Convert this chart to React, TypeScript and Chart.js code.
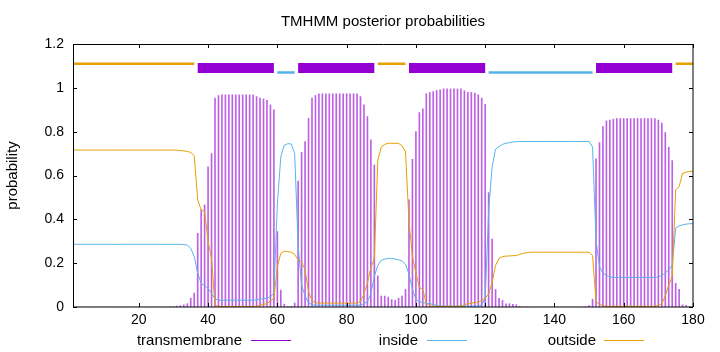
import React, { useEffect, useRef } from "react";
import { Chart, registerables } from "chart.js";

Chart.register(...registerables);

const TITLE = "TMHMM posterior probabilities";
const Y_LABEL = "probability";
const X_TICKS = [20, 40, 60, 80, 100, 120, 140, 160, 180];
const Y_TICKS = [0, 0.2, 0.4, 0.6, 0.8, 1, 1.2];
const SERIES_NAMES = ["transmembrane", "inside", "outside"];

// posterior probabilities per residue, positions 1..180
const TM = [
  0, 0, 0, 0, 0, 0, 0, 0, 0, 0,
  0, 0, 0, 0, 0, 0, 0, 0, 0, 0,
  0, 0, 0, 0, 0, 0, 0, 0, 0.001, 0.002,
  0.004, 0.006, 0.01, 0.015, 0.04, 0.063, 0.336, 0.443, 0.466, 0.64,
  0.7, 0.953, 0.965, 0.968, 0.968, 0.968, 0.968, 0.968, 0.968, 0.968,
  0.968, 0.968, 0.968, 0.96, 0.953, 0.949, 0.943, 0.922, 0.9, 0.344,
  0.077, 0.013, 0.002, 0.003, 0.018, 0.575, 0.705, 0.755, 0.861, 0.953,
  0.965, 0.973, 0.973, 0.973, 0.973, 0.973, 0.973, 0.973, 0.973, 0.973,
  0.973, 0.973, 0.973, 0.96, 0.922, 0.869, 0.763, 0.648, 0.142, 0.05,
  0.05, 0.045, 0.034, 0.03, 0.04, 0.05, 0.08, 0.489, 0.674, 0.8,
  0.887, 0.904, 0.973, 0.979, 0.983, 0.988, 0.991, 0.995, 0.995, 0.995,
  0.995, 0.995, 0.995, 0.987, 0.98, 0.979, 0.976, 0.968, 0.953, 0.925,
  0.522, 0.31, 0.08, 0.04, 0.03, 0.015, 0.015, 0.012, 0.01, 0.003,
  0, 0, 0, 0, 0, 0, 0, 0, 0, 0,
  0, 0, 0, 0, 0, 0, 0, 0, 0.002, 0.006,
  0.035, 0.676, 0.75, 0.823, 0.849, 0.853, 0.857, 0.86, 0.86, 0.86,
  0.86, 0.86, 0.86, 0.86, 0.86, 0.86, 0.86, 0.86, 0.86, 0.853,
  0.839, 0.796, 0.729, 0.668, 0.108, 0.081, 0.01, 0.008, 0.002, 0,
];

const INSIDE = [
  0.286, 0.286, 0.286, 0.286, 0.286, 0.286, 0.286, 0.286, 0.286, 0.286,
  0.286, 0.286, 0.286, 0.286, 0.286, 0.286, 0.286, 0.286, 0.286, 0.286,
  0.286, 0.286, 0.286, 0.286, 0.286, 0.286, 0.286, 0.286, 0.286, 0.286,
  0.286, 0.286, 0.285, 0.282, 0.268, 0.23, 0.154, 0.108, 0.098, 0.085,
  0.062, 0.037, 0.031, 0.031, 0.031, 0.031, 0.031, 0.031, 0.031, 0.031,
  0.031, 0.031, 0.031, 0.033, 0.035, 0.038, 0.04, 0.047, 0.062, 0.47,
  0.686, 0.738, 0.745, 0.744, 0.7, 0.28, 0.1, 0.05, 0.02, 0.01,
  0.008, 0.008, 0.008, 0.008, 0.008, 0.008, 0.008, 0.008, 0.008, 0.008,
  0.008, 0.008, 0.008, 0.008, 0.015, 0.025, 0.06, 0.14, 0.19, 0.213,
  0.218, 0.222, 0.222, 0.219, 0.215, 0.21, 0.195, 0.15, 0.08, 0.035,
  0.025, 0.02, 0.017, 0.015, 0.012, 0.008, 0.005, 0.004, 0.004, 0.004,
  0.004, 0.004, 0.004, 0.004, 0.004, 0.004, 0.004, 0.004, 0.01, 0.04,
  0.44, 0.64, 0.72, 0.732, 0.742, 0.747, 0.75, 0.753, 0.754, 0.755,
  0.755, 0.755, 0.755, 0.755, 0.755, 0.755, 0.755, 0.755, 0.755, 0.755,
  0.755, 0.755, 0.755, 0.755, 0.755, 0.755, 0.755, 0.755, 0.755, 0.755,
  0.73, 0.306, 0.184, 0.155, 0.144, 0.138, 0.135, 0.135, 0.135, 0.135,
  0.135, 0.135, 0.135, 0.135, 0.135, 0.135, 0.135, 0.135, 0.135, 0.137,
  0.144, 0.155, 0.17, 0.19, 0.36, 0.37, 0.375, 0.378, 0.38, 0.38,
];

const OUTSIDE = [
  0.716, 0.716, 0.716, 0.716, 0.716, 0.716, 0.716, 0.716, 0.716, 0.716,
  0.716, 0.716, 0.716, 0.716, 0.716, 0.716, 0.716, 0.716, 0.716, 0.716,
  0.716, 0.716, 0.716, 0.716, 0.716, 0.716, 0.716, 0.716, 0.716, 0.716,
  0.716, 0.714, 0.712, 0.71, 0.705, 0.69, 0.489, 0.443, 0.435, 0.3,
  0.22, 0.01, 0.002, 0.002, 0.002, 0.002, 0.002, 0.002, 0.002, 0.002,
  0.002, 0.002, 0.002, 0.002, 0.008, 0.012, 0.015, 0.028, 0.04, 0.184,
  0.245, 0.255, 0.253, 0.25, 0.24, 0.215, 0.205, 0.17, 0.07, 0.03,
  0.02, 0.018, 0.018, 0.018, 0.018, 0.018, 0.018, 0.018, 0.018, 0.018,
  0.018, 0.018, 0.018, 0.025, 0.06, 0.11, 0.18, 0.22, 0.67, 0.73,
  0.742, 0.747, 0.747, 0.747, 0.747, 0.735, 0.71, 0.39, 0.23, 0.155,
  0.09, 0.08, 0.015, 0.006, 0.003, 0.003, 0.003, 0.003, 0.003, 0.003,
  0.003, 0.003, 0.003, 0.01, 0.016, 0.018, 0.02, 0.022, 0.03, 0.04,
  0.06, 0.11, 0.19, 0.222, 0.23, 0.232, 0.233, 0.234, 0.235, 0.24,
  0.245, 0.248, 0.25, 0.25, 0.25, 0.25, 0.25, 0.25, 0.25, 0.25,
  0.25, 0.25, 0.25, 0.25, 0.25, 0.25, 0.25, 0.25, 0.25, 0.25,
  0.235, 0.025, 0.012, 0.006, 0.003, 0.003, 0.003, 0.003, 0.003, 0.003,
  0.003, 0.003, 0.003, 0.003, 0.003, 0.003, 0.003, 0.003, 0.003, 0.008,
  0.015, 0.05, 0.1, 0.14, 0.534, 0.55, 0.61, 0.615, 0.618, 0.62,
];

// predicted topology: [start, end] residue ranges
const TM_REGIONS = [[37, 59], [66, 88], [98, 120], [152, 174]];
const INSIDE_REGIONS = [[60, 65], [121, 151]];
const OUTSIDE_REGIONS = [[1, 36], [89, 97], [175, 180]];
const LEVEL_TM = 1.09;
const LEVEL_INSIDE = 1.07;
const LEVEL_OUTSIDE = 1.11;

const C_TM = "#9400d3";
const C_TM_IMPULSE = "rgba(148, 0, 211, 0.62)";
const C_IN = "#56b4e9";
const C_OUT = "#e69f00";
const FONT = "'Liberation Sans', Arial, Helvetica, sans-serif";

const toPoints = (vals: number[]) => vals.map((v, i) => ({ x: i + 1, y: v }));
const toSegments = (regions: number[][], level: number) => {
  const pts: { x: number; y: number | null }[] = [];
  regions.forEach(([a, b]) => {
    pts.push({ x: a, y: level }, { x: b, y: level }, { x: b + 0.5, y: null });
  });
  return pts;
};

const framePlugin = {
  id: "gnuFrame",
  afterDatasetsDraw(chart: any) {
    const { ctx, chartArea, scales } = chart;
    const { left, right, top, bottom } = chartArea;
    const xs = scales.x;
    const ys = scales.y;
    ctx.save();
    ctx.strokeStyle = "#000";
    ctx.lineWidth = 1;
    ctx.beginPath();
    X_TICKS.forEach((v) => {
      const px = Math.round(xs.getPixelForValue(v)) + 0.5;
      ctx.moveTo(px, bottom);
      ctx.lineTo(px, bottom - 4);
      ctx.moveTo(px, top);
      ctx.lineTo(px, top + 4);
    });
    Y_TICKS.forEach((v) => {
      const py = Math.round(ys.getPixelForValue(v)) + 0.5;
      ctx.moveTo(left, py);
      ctx.lineTo(left + 4, py);
      ctx.moveTo(right, py);
      ctx.lineTo(right - 4, py);
    });
    ctx.stroke();
    ctx.beginPath();
    ctx.moveTo(left + 0.5, bottom);
    ctx.lineTo(left + 0.5, top + 0.5);
    ctx.lineTo(right, top + 0.5);
    ctx.lineTo(right, bottom);
    ctx.lineTo(left + 0.5, bottom);
    ctx.stroke();
    ctx.restore();
  },
};

const LEGEND = [
  { name: SERIES_NAMES[0], color: C_TM, textRight: 242, lineLeft: 251 },
  { name: SERIES_NAMES[1], color: C_IN, textRight: 418, lineLeft: 427 },
  { name: SERIES_NAMES[2], color: C_OUT, textRight: 596, lineLeft: 604 },
];

export default function App() {
  const canvasRef = useRef<HTMLCanvasElement | null>(null);

  useEffect(() => {
    const canvas = canvasRef.current;
    if (!canvas) return;
    const chart = new Chart(canvas, {
      type: "bar",
      data: {
        datasets: [
          {
            type: "line",
            label: "outside region",
            data: toSegments(OUTSIDE_REGIONS, LEVEL_OUTSIDE),
            borderColor: C_OUT,
            borderWidth: 2.5,
            pointRadius: 0,
            spanGaps: false,
            order: 0,
          } as any,
          {
            type: "line",
            label: "inside region",
            data: toSegments(INSIDE_REGIONS, LEVEL_INSIDE),
            borderColor: C_IN,
            borderWidth: 2.5,
            pointRadius: 0,
            spanGaps: false,
            order: 1,
          },
          {
            type: "line",
            label: "TM region",
            data: toSegments(TM_REGIONS, LEVEL_TM),
            borderColor: C_TM,
            borderWidth: 10,
            pointRadius: 0,
            spanGaps: false,
            order: 2,
          },
          {
            type: "line",
            label: SERIES_NAMES[2],
            data: toPoints(OUTSIDE),
            borderColor: C_OUT,
            borderWidth: 1,
            pointRadius: 0,
            tension: 0,
            order: 3,
          },
          {
            type: "line",
            label: SERIES_NAMES[1],
            data: toPoints(INSIDE),
            borderColor: C_IN,
            borderWidth: 1,
            pointRadius: 0,
            tension: 0,
            order: 4,
          },
          {
            type: "bar",
            label: SERIES_NAMES[0],
            data: toPoints(TM),
            backgroundColor: C_TM_IMPULSE,
            borderWidth: 0,
            barThickness: 1,
            order: 5,
          },
        ] as any,
      },
      options: {
        responsive: false,
        animation: false,
        events: [],
        layout: { padding: { left: 0, right: 27, top: 0, bottom: 0 } },
        plugins: {
          legend: { display: false },
          tooltip: { enabled: false },
          title: {
            display: true,
            text: TITLE,
            fullSize: false,
            color: "#000",
            font: { family: FONT, size: 15, weight: "normal" },
            padding: { top: 12.5, bottom: 13.5 },
          },
        },
        scales: {
          x: {
            type: "linear",
            min: 1,
            max: 180,
            offset: false,
            grid: { display: false, drawTicks: false },
            border: { display: false },
            afterBuildTicks: (scale: any) => {
              scale.ticks = X_TICKS.map((value) => ({ value }));
            },
            afterFit: (scale: any) => {
              scale.height = 45;
            },
            ticks: {
              color: "#000",
              padding: 5,
              maxRotation: 0,
              autoSkip: false,
              font: { family: FONT, size: 14 },
              callback: (v: any) => String(v),
            },
          },
          y: {
            type: "linear",
            min: 0,
            max: 1.2,
            grid: { display: false, drawTicks: false },
            border: { display: false },
            afterBuildTicks: (scale: any) => {
              scale.ticks = Y_TICKS.map((value) => ({ value }));
            },
            afterFit: (scale: any) => {
              scale.width = 73;
            },
            title: {
              display: true,
              text: Y_LABEL,
              color: "#000",
              font: { family: FONT, size: 15 },
              padding: { top: 4, bottom: 0 },
            },
            ticks: {
              color: "#000",
              padding: 9,
              autoSkip: false,
              font: { family: FONT, size: 14 },
              callback: (v: any) => String(Math.round(Number(v) * 10) / 10),
            },
          },
        },
      },
      plugins: [framePlugin],
    });
    return () => chart.destroy();
  }, []);

  return (
    <div
      style={{
        position: "absolute",
        left: 0,
        top: 0,
        width: 720,
        height: 352,
        background: "#fff",
        overflow: "hidden",
      }}
    >
      <canvas ref={canvasRef} width={720} height={352} style={{ display: "block" }} />
      {LEGEND.map((item) => (
        <React.Fragment key={item.name}>
          <span
            style={{
              position: "absolute",
              right: 720 - item.textRight,
              top: 331,
              fontFamily: FONT,
              fontSize: 15,
              lineHeight: "18px",
              color: "#000",
              whiteSpace: "nowrap",
            }}
          >
            {item.name}
          </span>
          <div
            style={{
              position: "absolute",
              left: item.lineLeft,
              top: 340,
              width: 40,
              height: 1,
              background: item.color,
            }}
          />
        </React.Fragment>
      ))}
    </div>
  );
}
